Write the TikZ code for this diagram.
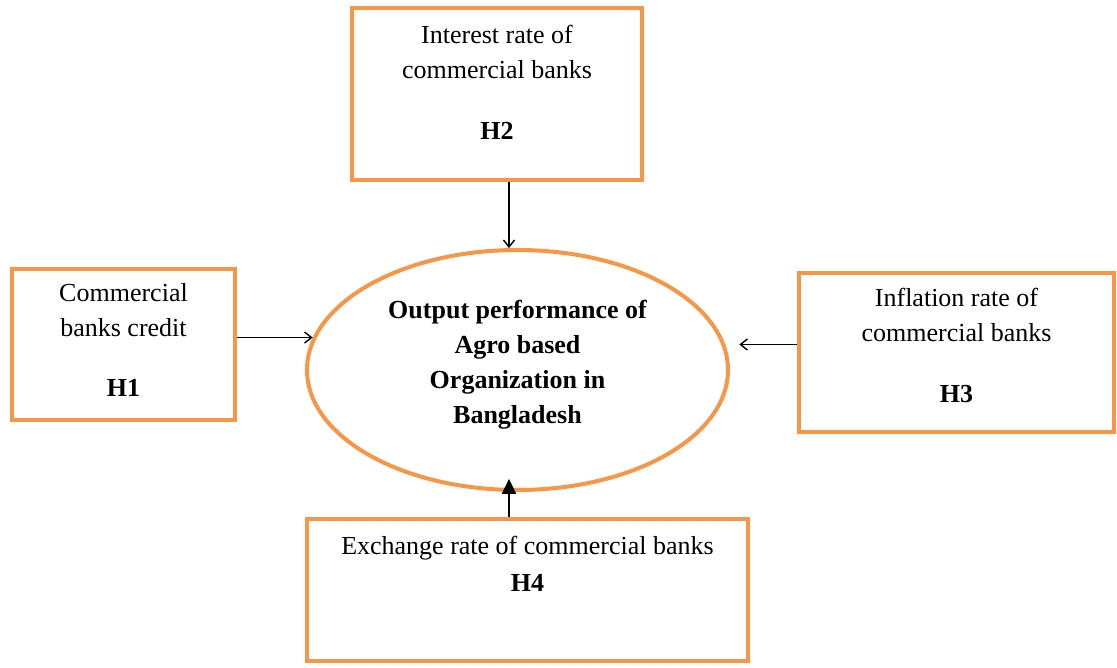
\documentclass[tikz,border=0pt]{standalone}
\usepackage{fontspec}
\setmainfont{Liberation Serif}
\usepackage{tikz}
\usetikzlibrary{shapes.geometric, arrows.meta, positioning}
\definecolor{boxorange}{RGB}{247,150,70}

\begin{document}
\begin{tikzpicture}[
    x=1pt, y=-1pt,
    every node/.style={font=\fontsize{26}{35}\selectfont},
    box/.style={draw=boxorange, line width=4pt, align=center, inner sep=0pt},
    goal/.style={ellipse, draw=boxorange, line width=4pt, align=center, inner sep=0pt, font=\fontsize{26}{35}\selectfont\bfseries},
    arrow/.style={-{Straight Barb[length=7pt, width=11pt]}, line width=1.4pt},
    bigarrow/.style={-{Triangle[length=15pt, width=14pt]}, line width=2pt}
]
    \useasboundingbox (0,0) rectangle (1117,668);

    \node[goal, minimum width=421, minimum height=240] (ell) at (517.5,370) {Output performance of\\Agro based\\Organization in\\Bangladesh\rule[-17pt]{0pt}{0pt}};

    \node[box, minimum width=290, minimum height=172] (h2) at (497,94) {Interest rate of\\commercial banks\\[26pt]\textbf{H2}\rule[-23pt]{0pt}{0pt}};
    \node[box, minimum width=223, minimum height=151] (h1) at (123.5,344.5) {Commercial\\banks credit\\[25pt]\textbf{H1}\rule[-9pt]{0pt}{0pt}};
    \node[box, minimum width=315, minimum height=159] (h3) at (956.5,352.5) {Inflation rate of\\commercial banks\\[26pt]\textbf{H3}\rule[-14pt]{0pt}{0pt}};
    \node[box, minimum width=441, minimum height=142] (h4) at (527.5,590) {Exchange rate of commercial banks\\[2pt]\textbf{H4}\rule[-53pt]{0pt}{0pt}};

    \draw[arrow] (ell.94 |- h2.south) -- (ell.94);
    \draw[arrow] (h1.east |- ell.171) -- (ell.171);
    \draw[arrow, shorten >=14pt] (h3.west |- ell.7.5) -- (ell.7.5);
    \draw[bigarrow, shorten >=-13pt] (ell.266 |- h4.north) -- (ell.266);
\end{tikzpicture}
\end{document}
